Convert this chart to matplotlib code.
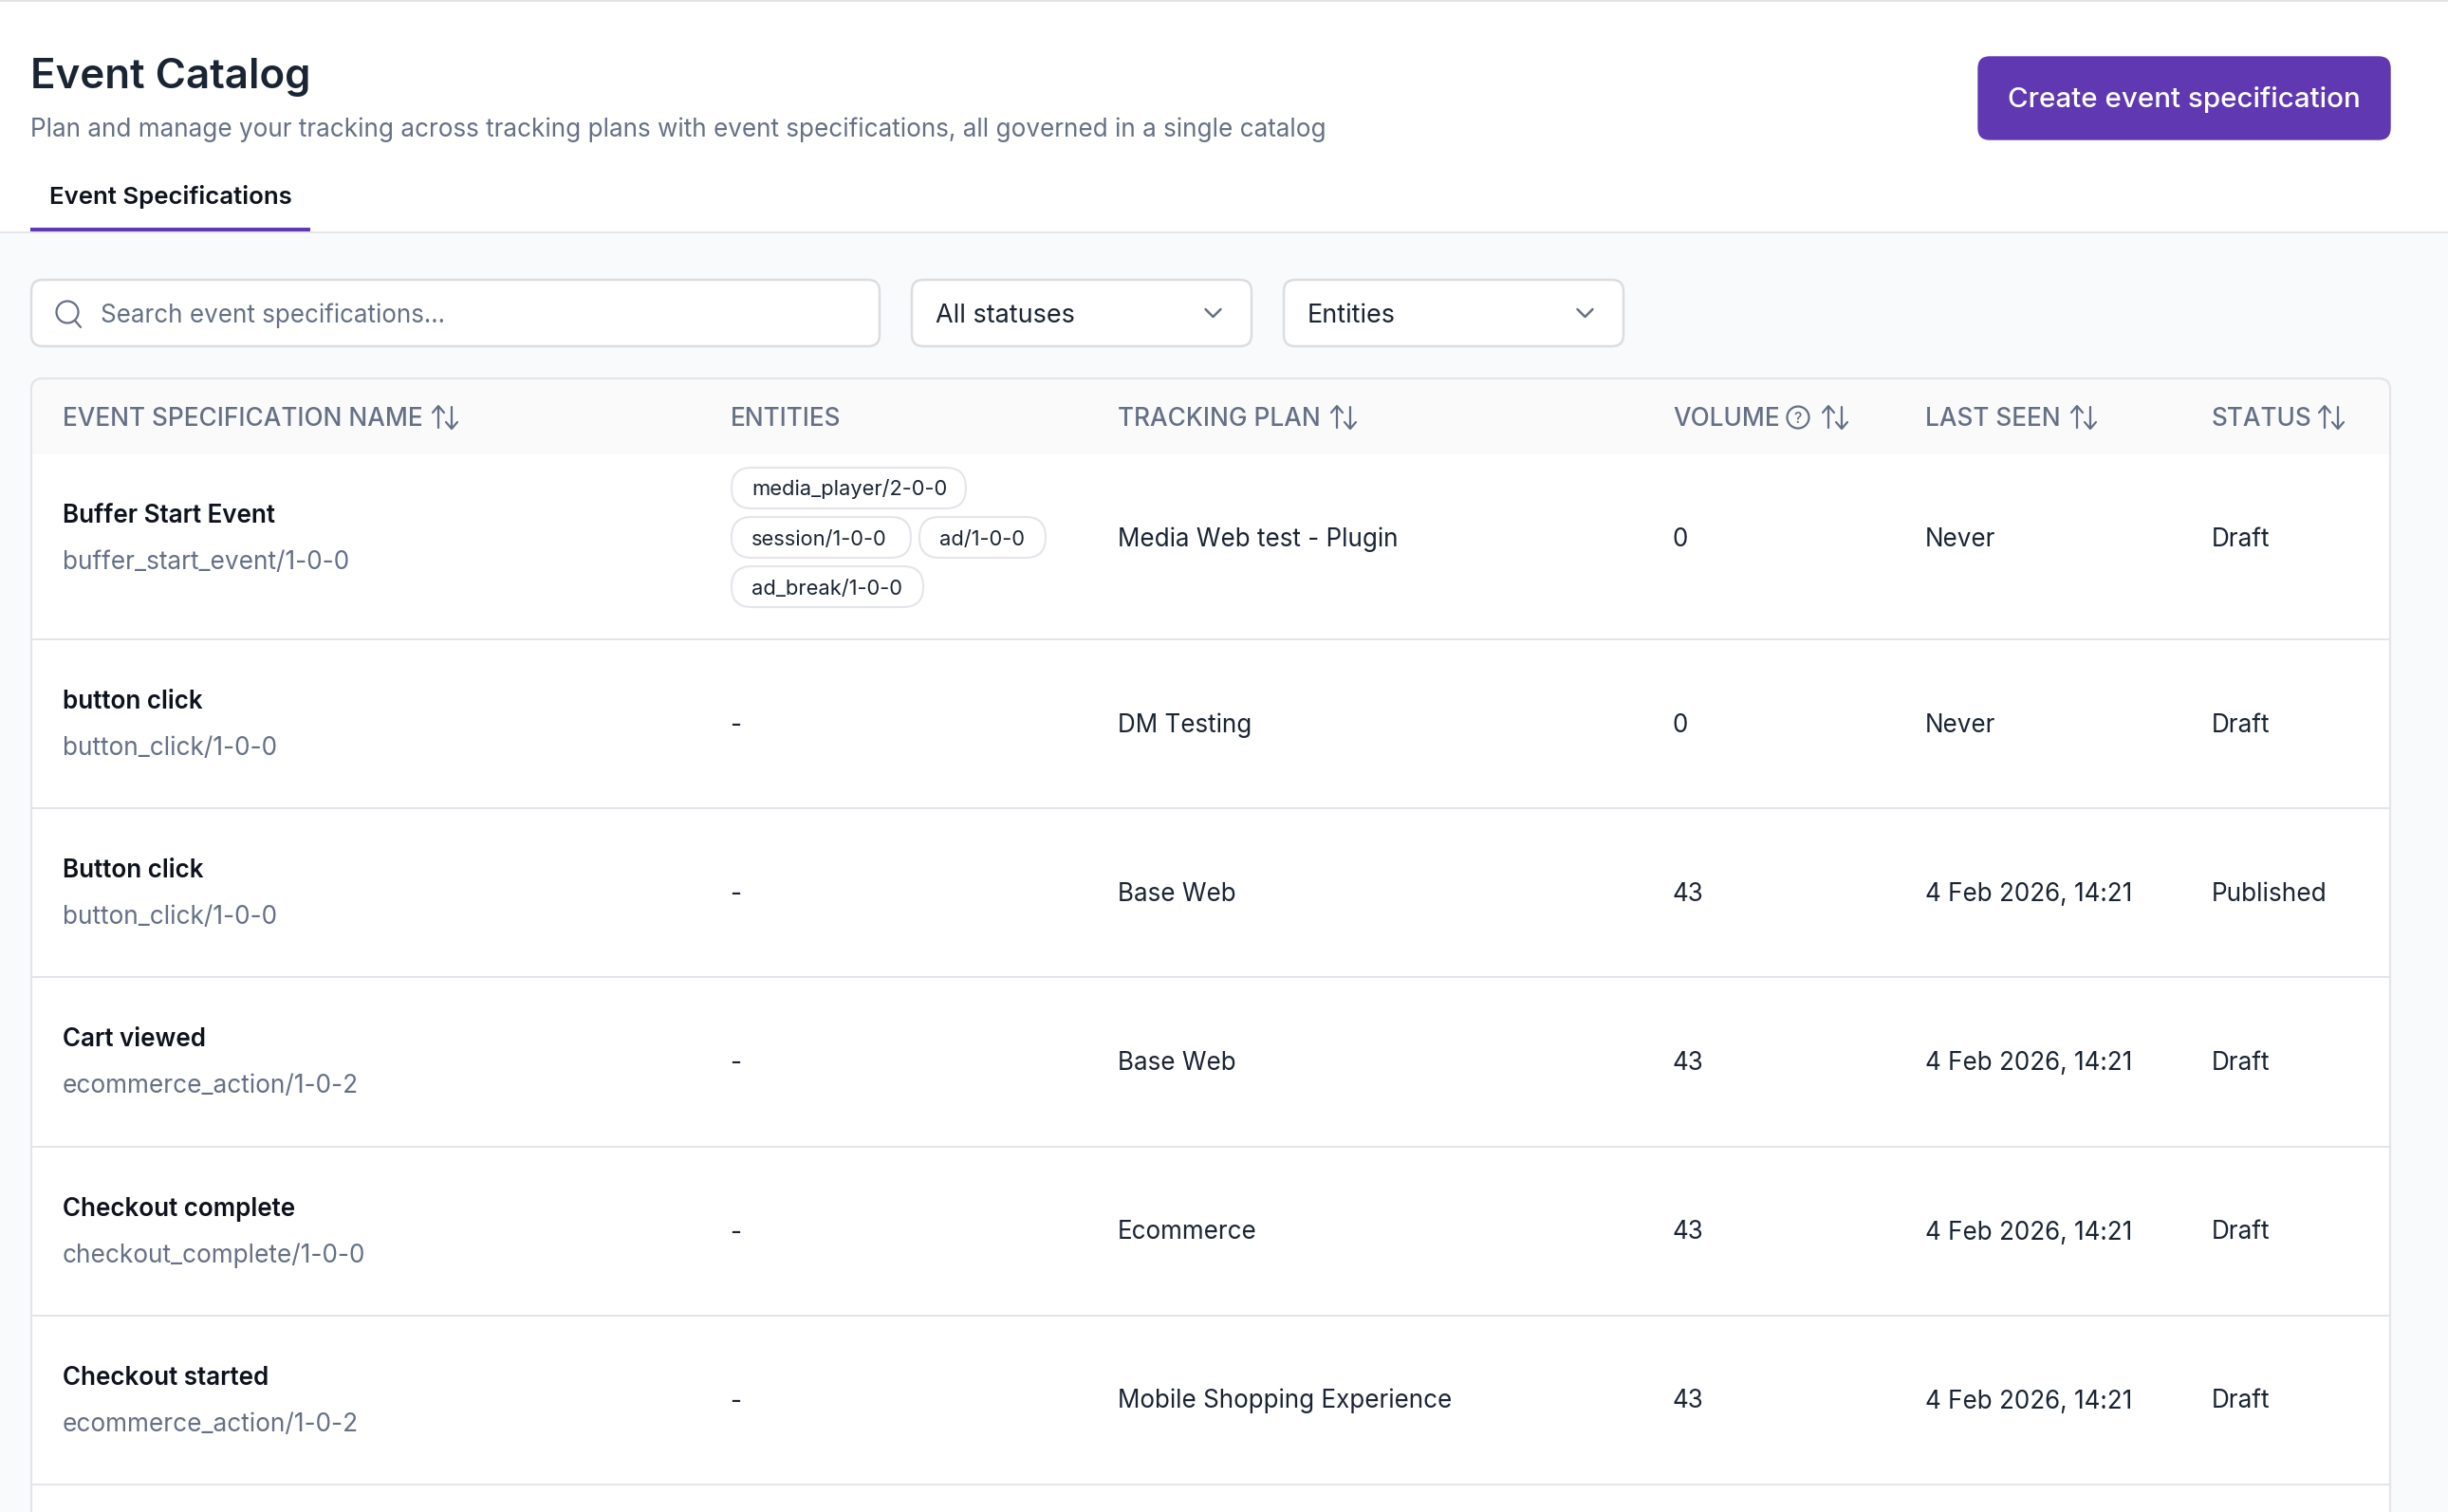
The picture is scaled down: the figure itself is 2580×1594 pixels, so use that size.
import matplotlib
matplotlib.use("Agg")
import matplotlib.pyplot as plt
from matplotlib.patches import FancyBboxPatch, Rectangle, Circle

names = ["Buffer Start Event", "button click", "Button click", "Cart viewed", "Checkout complete", "Checkout started"]
schemas = ["buffer_start_event/1-0-0", "button_click/1-0-0", "button_click/1-0-0", "ecommerce_action/1-0-2",
           "checkout_complete/1-0-0", "ecommerce_action/1-0-2"]
entities = [None, "-", "-", "-", "-", "-"]
plans = ["Media Web test - Plugin", "DM Testing", "Base Web", "Base Web", "Ecommerce", "Mobile Shopping Experience"]
volumes = ["0", "0", "43", "43", "43", "43"]
last_seen = ["Never", "Never", "4 Feb 2026, 14:21", "4 Feb 2026, 14:21", "4 Feb 2026, 14:21", "4 Feb 2026, 14:21"]
statuses = ["Draft", "Draft", "Published", "Draft", "Draft", "Draft"]
pill_labels = ["media_player/2-0-0", "session/1-0-0", "ad/1-0-0", "ad_break/1-0-0"]
headers = ["EVENT SPECIFICATION NAME", "ENTITIES", "TRACKING PLAN", "VOLUME", "LAST SEEN", "STATUS"]

W, H = 2580, 1594
plt.rcParams['font.family'] = ['Inter', 'DejaVu Sans']
fig = plt.figure(figsize=(W / 100, H / 100), dpi=100, facecolor='#f9fafb')
ax = fig.add_axes([0, 0, 1, 1])
ax.set_xlim(0, W)
ax.set_ylim(H, 0)
ax.axis('off')

INK, MUTED, BORDER, PURPLE = '#1a2433', '#667085', '#e4e5eb', '#6038b2'
BLACK = '#0d121c'


def rr(x0, y0, x1, y1, r, fc='white', ec=BORDER, lw=1.5, z=2):
    ax.add_patch(FancyBboxPatch((x0 + r, y0 + r), x1 - x0 - 2 * r, y1 - y0 - 2 * r,
                                boxstyle=f"round,pad={r},rounding_size={r}", fc=fc, ec=ec, lw=lw, zorder=z))


def txt(x, y, s, size, color=INK, weight='normal', ha='left'):
    ax.text(x, y, s, fontsize=size * 0.72, color=color, fontweight=weight, ha=ha, va='baseline', zorder=5)


def line(xs, ys, color=MUTED, lw=1.6):
    ax.plot(xs, ys, color=color, lw=lw, solid_capstyle='round', solid_joinstyle='round', zorder=5)


def sort_icon(x, y):
    # up arrow on the left, down arrow on the right; x is the left edge, y the vertical centre
    line([x + 6, x + 6], [y - 11, y + 11])
    line([x, x + 6, x + 12], [y - 5, y - 12, y - 5])
    line([x + 20, x + 20], [y - 11, y + 11])
    line([x + 14, x + 20, x + 26], [y + 5, y + 12, y + 5])


def chevron(x, y):
    line([x - 8, x, x + 8], [y - 4, y + 4, y - 4], lw=1.8)


# page header
ax.add_patch(Rectangle((0, 0), W, 244, fc='white', ec='none', zorder=1))
ax.add_patch(Rectangle((0, 0), W, 2, fc='#e2e3e6', ec='none', zorder=2))
ax.add_patch(Rectangle((0, 244), W, 2, fc=BORDER, ec='none', zorder=2))
ax.add_patch(Rectangle((32, 240), 295, 4, fc=PURPLE, ec='none', zorder=3))
txt(32, 93, "Event Catalog", 43.8, INK, 'semibold')
txt(32, 144, "Plan and manage your tracking across tracking plans with event specifications, all governed in a single catalog",
    26.1, MUTED)
txt(52, 215, "Event Specifications", 25.8, BLACK, 'semibold')
rr(2085, 60, 2519, 147, 12, fc=PURPLE, ec=PURPLE, lw=1)
txt(2302, 113, "Create event specification", 29.6, 'white', 'medium', ha='center')

# filters
for x0, x1 in [(33, 927), (961, 1319), (1353, 1711)]:
    rr(x0, 295, x1, 365, 12, ec='#dcdde2', lw=1.8)
ax.add_patch(Circle((71, 329), 11.5, fc='none', ec=MUTED, lw=1.6, zorder=5))
line([79, 85], [338, 345])
txt(106, 340, "Search event specifications...", 26, MUTED)
txt(986, 340, "All statuses", 27, INK)
txt(1378, 340, "Entities", 27, INK)
chevron(1278.5, 330)
chevron(1670.5, 330)

# table
top, head_bottom, table_right = 399, 479, 2519
rr(33, top, table_right, H + 40, 12, fc='white')
rr(33, top, table_right, head_bottom + 20, 12, fc='#fafafb')
ax.add_patch(Rectangle((34, head_bottom), table_right - 35, H + 30 - head_bottom, fc='white', ec='none', zorder=2))
ax.plot([33, 33], [head_bottom - 12, H], color=BORDER, lw=1.5, zorder=3)
ax.plot([table_right, table_right], [head_bottom - 12, H], color=BORDER, lw=1.5, zorder=3)

col_x = [66, 770, 1178, 1763, 2029, 2331]
sort_x = [456, None, 1403, 1921, 2183, 2444]
for x, label, sx in zip(col_x, headers, sort_x):
    txt(x, 449, label, 26.2, MUTED, 'medium')
    if sx is not None:
        sort_icon(sx, 440)
ax.add_patch(Circle((1895, 440), 11.5, fc='none', ec=MUTED, lw=1.6, zorder=5))
txt(1895, 446, "?", 16, MUTED, 'medium', ha='center')

row_tops = [479, 675, 853, 1031, 1210, 1388]
row_bottoms = [674, 852, 1030, 1209, 1387, 1565]
for i, (t, b) in enumerate(zip(row_tops, row_bottoms)):
    ax.add_patch(Rectangle((34, b - 1), table_right - 35, 2, fc=BORDER, ec='none', zorder=4))
    mid = 566.5 if i == 0 else (t + b) / 2 - 1
    name_nudge = -0.5 if i == 0 else -0.8
    sub_nudge = -1.2 if i == 0 else -1.6
    txt(col_x[0], mid - 15 + name_nudge, names[i], 26, BLACK, 'semibold')
    txt(col_x[0], mid + 35 + sub_nudge, schemas[i], 26.2, MUTED)
    if entities[i] is not None:
        txt(col_x[1] - 1, mid + 9, entities[i], 26, INK)
    txt(col_x[2], mid + 9, plans[i], 26, INK)
    txt(col_x[3], mid + 9, volumes[i], 26, INK)
    txt(col_x[4], mid + 9, last_seen[i], 26, INK)
    txt(col_x[5], mid + 9, statuses[i], 26.2, INK)

# entity pills of the first row
pill_boxes = [(771, 1018, 493), (771, 960, 545), (969, 1102, 545), (771, 973, 597)]
for (x0, x1, y0), label in zip(pill_boxes, pill_labels):
    rr(x0, y0, x1, y0 + 43, 21, ec=BORDER, lw=1.5, z=5)
    ax.text(x0 + 21, y0 + 29.5, label, fontsize=21.9 * 0.72, color=INK, ha='left', va='baseline', zorder=6)

fig.savefig("out.png", dpi=100, facecolor=fig.get_facecolor())
